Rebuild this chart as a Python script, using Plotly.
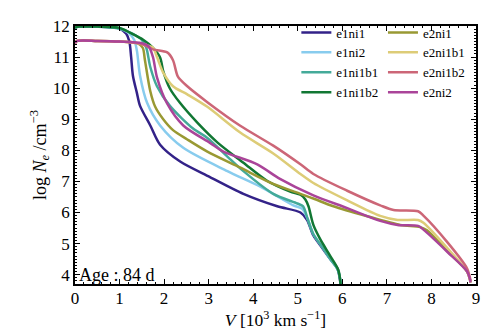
import plotly.graph_objects as go

# velocity [10^3 km/s] and log Ne for each model
e1ni1_v = [0, 0.1, 0.5, 1.0, 1.15, 1.22, 1.26, 1.3, 1.39, 1.46, 1.69, 1.91, 2.36, 3.03, 3.78, 4.54, 5.06, 5.21, 5.35, 5.57, 5.73, 5.89, 5.96]
e1ni1_y = [11.95, 11.98, 11.98, 11.92, 11.75, 11.5, 11.0, 10.4, 9.84, 9.43, 8.8, 8.18, 7.64, 7.14, 6.6, 6.2, 6.0, 5.76, 5.26, 4.82, 4.5, 4.2, 3.7]

e1ni2_v = [0, 0.1, 0.5, 1.0, 1.2, 1.33, 1.39, 1.46, 1.62, 1.91, 2.43, 3.42, 4.16, 4.9, 5.1, 5.22, 5.35, 5.57, 5.73, 5.9, 5.97]
e1ni2_y = [11.95, 11.98, 11.98, 11.92, 11.78, 11.55, 11.2, 10.4, 9.52, 8.8, 8.08, 7.33, 6.83, 6.23, 6.12, 5.8, 5.3, 4.85, 4.5, 4.15, 3.7]

e1ni1b1_v = [0, 0.1, 0.5, 1.0, 1.3, 1.5, 1.6, 1.69, 1.84, 2.13, 2.65, 2.97, 3.42, 3.78, 4.45, 4.99, 5.12, 5.22, 5.35, 5.57, 5.73, 5.9, 5.97]
e1ni1b1_y = [11.95, 11.98, 11.98, 11.92, 11.75, 11.55, 11.3, 10.68, 10.06, 9.43, 8.7, 8.4, 7.8, 7.33, 6.6, 6.29, 6.2, 5.8, 5.3, 4.85, 4.5, 4.15, 3.7]

e1ni1b2_v = [0, 0.1, 0.5, 1.0, 1.24, 1.53, 1.75, 1.91, 1.98, 2.13, 2.36, 2.74, 3.2, 3.78, 4.31, 4.83, 5.06, 5.17, 5.24, 5.35, 5.5, 5.73, 5.91, 5.96]
e1ni1b2_y = [11.95, 11.98, 11.98, 11.94, 11.78, 11.56, 11.3, 10.99, 10.55, 9.99, 9.52, 8.9, 8.25, 7.6, 7.02, 6.67, 6.57, 6.42, 6.2, 5.6, 5.15, 4.6, 4.15, 3.7]

e2ni1_v = [0, 0.05, 0.5, 1.0, 1.4, 1.52, 1.57, 1.69, 1.8, 1.98, 2.2, 2.52, 2.97, 3.7, 4.45, 5.06, 5.35, 5.8, 6.56, 7.3, 7.75, 7.9, 8.36, 8.8, 8.88]
e2ni1_y = [11.45, 11.52, 11.52, 11.5, 11.45, 11.3, 10.9, 9.9, 9.4, 9.0, 8.65, 8.35, 7.96, 7.45, 6.92, 6.6, 6.45, 6.2, 5.88, 5.6, 5.53, 5.43, 4.75, 4.1, 3.75]

e2ni1b1_v = [0, 0.05, 0.5, 1.0, 1.5, 1.75, 1.84, 1.98, 2.2, 2.52, 2.97, 3.7, 4.45, 5.06, 5.35, 6.11, 6.85, 7.24, 7.7, 7.82, 8.36, 8.8, 8.88]
e2ni1b1_y = [11.45, 11.52, 11.52, 11.5, 11.42, 11.3, 11.0, 10.5, 10.06, 9.8, 9.4, 8.58, 7.9, 7.24, 6.95, 6.39, 5.89, 5.76, 5.76, 5.67, 4.85, 4.1, 3.75]

e2ni1b2_v = [0, 0.05, 0.5, 1.0, 1.5, 1.75, 2.07, 2.2, 2.31, 2.52, 2.97, 3.7, 4.45, 5.06, 5.35, 6.11, 6.85, 7.15, 7.7, 7.82, 8.36, 8.8, 8.88]
e2ni1b2_y = [11.45, 11.52, 11.52, 11.5, 11.42, 11.25, 11.15, 10.9, 10.37, 10.06, 9.55, 8.8, 8.15, 7.55, 7.24, 6.7, 6.23, 6.08, 6.04, 5.9, 5.04, 4.2, 3.8]

e2ni2_v = [0, 0.05, 0.5, 1.0, 1.5, 1.65, 1.75, 1.84, 2.07, 2.43, 3.03, 3.33, 4.09, 4.6, 5.35, 6.11, 6.85, 7.24, 7.7, 7.82, 8.36, 8.8, 8.88]
e2ni2_y = [11.45, 11.52, 11.52, 11.5, 11.45, 11.35, 11.0, 10.35, 9.5, 8.8, 8.24, 7.96, 7.55, 7.08, 6.55, 6.14, 5.73, 5.6, 5.57, 5.45, 4.73, 4.1, 3.75]

models = [
    ("e1ni1", e1ni1_v, e1ni1_y, "#332288", "legend"),
    ("e1ni2", e1ni2_v, e1ni2_y, "#88CCEE", "legend"),
    ("e1ni1b1", e1ni1b1_v, e1ni1b1_y, "#44AA99", "legend"),
    ("e1ni1b2", e1ni1b2_v, e1ni1b2_y, "#117733", "legend"),
    ("e2ni1", e2ni1_v, e2ni1_y, "#999933", "legend2"),
    ("e2ni1b1", e2ni1b1_v, e2ni1b1_y, "#DDCC77", "legend2"),
    ("e2ni1b2", e2ni1b2_v, e2ni1b2_y, "#CC6677", "legend2"),
    ("e2ni2", e2ni2_v, e2ni2_y, "#AA4499", "legend2"),
]

FONT = "Liberation Serif"

fig = go.Figure()
for name, v, y, color, leg in models:
    fig.add_scatter(
        x=v, y=y, name=name, mode="lines",
        line=dict(color=color, width=2.5, shape="spline", smoothing=0.8),
        legend=leg,
    )

axis_common = dict(
    showline=True, linecolor="black", linewidth=1.5, mirror="ticks",
    ticks="inside", ticklen=5, tickwidth=1.2, tickcolor="black",
    showgrid=False, zeroline=False, automargin=False,
    tickfont=dict(family=FONT, size=17, color="black"),
)

fig.update_xaxes(
    range=[0, 9], dtick=1,
    minor=dict(dtick=0.2, ticks="inside", ticklen=2.5, tickcolor="black"),
    title=dict(text="<i>V</i> [10<sup>3</sup> km s<sup>−1</sup>]",
               font=dict(family=FONT, size=17.5, color="black"), standoff=0),
    ticklabelstandoff=-2,
    **axis_common,
)
fig.update_yaxes(
    range=[3.7, 12], dtick=1, tick0=4,
    minor=dict(dtick=0.1, ticks="inside", ticklen=2.5, tickcolor="black"),
    title=dict(text="log <i>N<sub>e</sub></i> /cm<sup>−3</sup>",
               font=dict(family=FONT, size=18, color="black"), standoff=2),
    **axis_common,
)

legend_common = dict(
    font=dict(family=FONT, size=13, color="black"),
    bgcolor="rgba(0,0,0,0)", borderwidth=0, itemwidth=30,
    xanchor="left", yanchor="top", tracegroupgap=0,
)

fig.update_layout(
    width=501, height=334,
    margin=dict(l=67, r=33, t=10, b=58),
    paper_bgcolor="white", plot_bgcolor="white",
    hovermode=False,
    legend=dict(x=0.552, y=1.033, **legend_common),
    legend2=dict(x=0.768, y=1.033, **legend_common),
    annotations=[dict(
        text="Age : 84 d", xref="x", yref="y", x=0.05, y=4.0,
        xanchor="left", yanchor="middle", showarrow=False,
        font=dict(family=FONT, size=18, color="black"),
    )],
)

fig.write_html("out.html")
